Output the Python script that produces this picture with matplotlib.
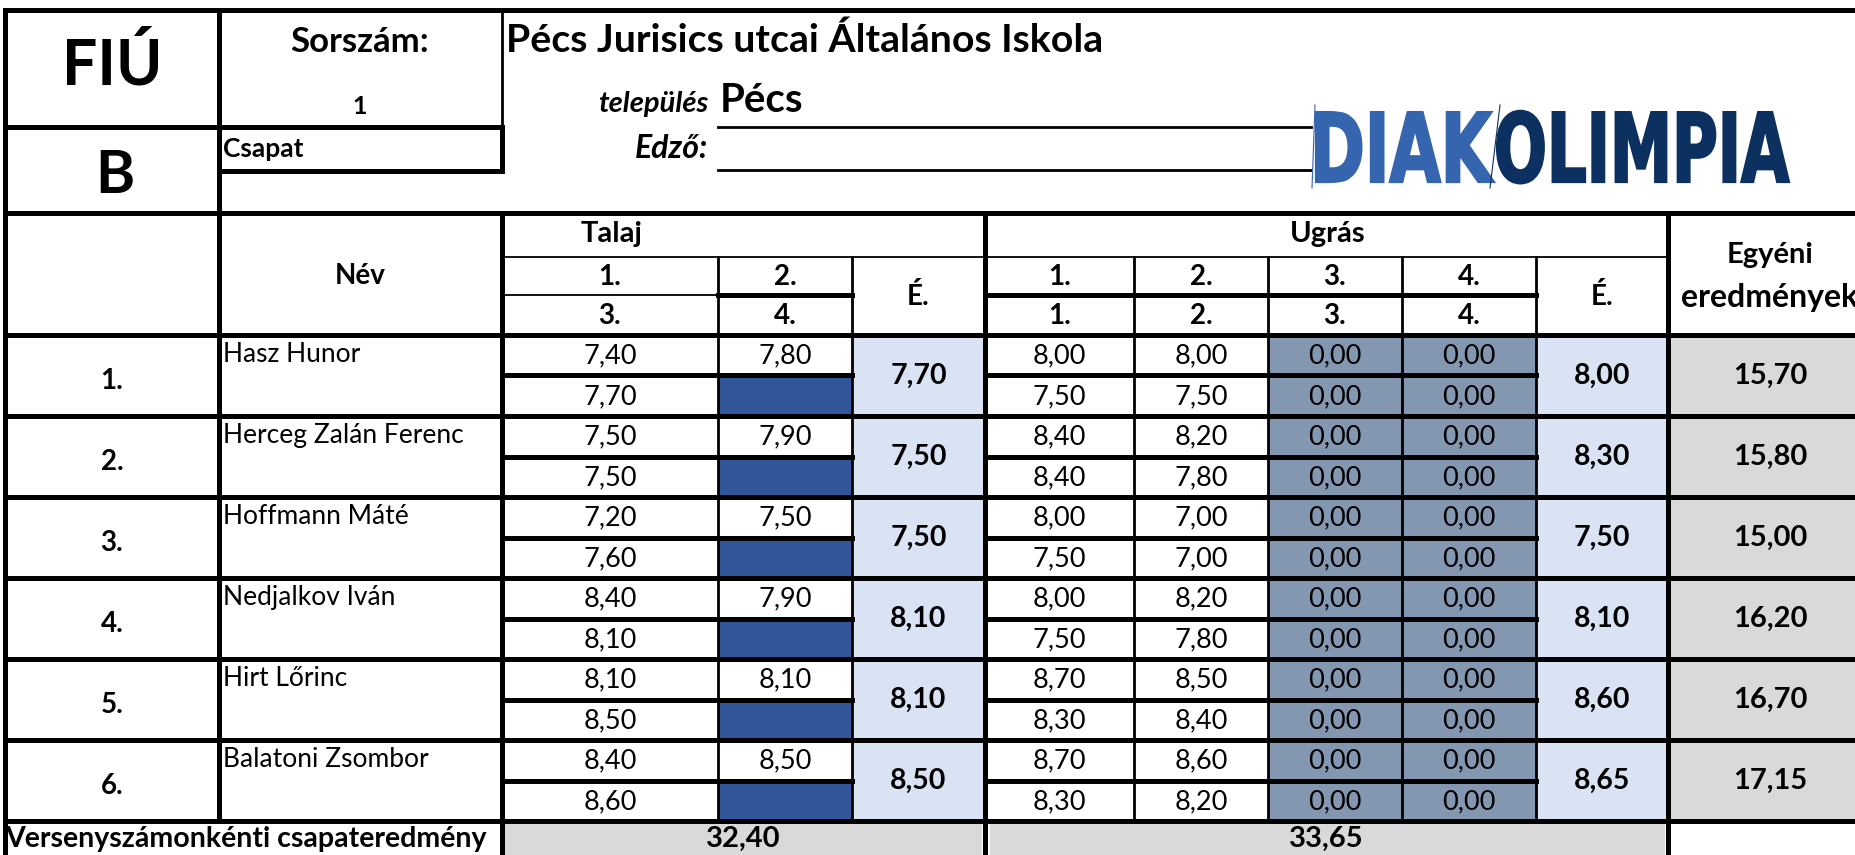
import matplotlib.pyplot as plt
from matplotlib.patches import Rectangle, PathPatch
from matplotlib.textpath import TextPath
from matplotlib.font_manager import FontProperties
from matplotlib.transforms import Affine2D

# Data read from the score sheet
names = ["Hasz Hunor", "Herceg Zalán Ferenc", "Hoffmann Máté",
         "Nedjalkov Iván", "Hirt Lőrinc", "Balatoni Zsombor"]
ranks = ["1.", "2.", "3.", "4.", "5.", "6."]

talaj_1 = [7.40, 7.50, 7.20, 8.40, 8.10, 8.40]
talaj_2 = [7.80, 7.90, 7.50, 7.90, 8.10, 8.50]
talaj_3 = [7.70, 7.50, 7.60, 8.10, 8.50, 8.60]
talaj_e = [7.70, 7.50, 7.50, 8.10, 8.10, 8.50]

ugras_top_1 = [8.00, 8.40, 8.00, 8.00, 8.70, 8.70]
ugras_top_2 = [8.00, 8.20, 7.00, 8.20, 8.50, 8.60]
ugras_top_3 = [0.00, 0.00, 0.00, 0.00, 0.00, 0.00]
ugras_top_4 = [0.00, 0.00, 0.00, 0.00, 0.00, 0.00]
ugras_bot_1 = [7.50, 8.40, 7.50, 7.50, 8.30, 8.30]
ugras_bot_2 = [7.50, 7.80, 7.00, 7.80, 8.40, 8.20]
ugras_bot_3 = [0.00, 0.00, 0.00, 0.00, 0.00, 0.00]
ugras_bot_4 = [0.00, 0.00, 0.00, 0.00, 0.00, 0.00]
ugras_e = [8.00, 8.30, 7.50, 8.10, 8.60, 8.65]

egyeni = [15.70, 15.80, 15.00, 16.20, 16.70, 17.15]
team_talaj = 32.40
team_ugras = 33.65

FONT = "Lato"
DARK_BLUE = "#31579a"
LAVENDER = "#dae3f3"
SLATE = "#8497b0"
GRAY = "#d9d9d9"

THICK = 3.6
MID = 2.0
THIN = 1.3


def fmt(v):
    return f"{v:.2f}".replace(".", ",")


fig = plt.figure(figsize=(18.55, 8.55), dpi=100)
ax = fig.add_axes([0, 0, 1, 1])
ax.set_xlim(0, 1855)
ax.set_ylim(855, 0)
ax.axis("off")


def txt(x, y, s, size=20, weight="normal", ha="center", style="normal", color="black"):
    ax.text(x, y, s, fontsize=size, fontweight=weight, ha=ha, va="center",
            family=FONT, style=style, color=color)


def hline(y, x0, x1, lw=THICK):
    ax.plot([x0, x1], [y, y], color="black", lw=lw, solid_capstyle="projecting")


def vline(x, y0, y1, lw=THICK):
    ax.plot([x, x], [y0, y1], color="black", lw=lw, solid_capstyle="projecting")


def fill(x0, y0, x1, y1, color):
    ax.add_patch(Rectangle((x0, y0), x1 - x0, y1 - y0, facecolor=color, edgecolor="none"))


# column edges
c_rank, c_name, c_t = 5, 219, 502
t_cols = [502, 718, 852, 985]
u_cols = [985, 1134, 1268, 1402, 1536, 1668]
right = 1855

head_top = 213
data_top = 335
row_h = 81
bottom_row = data_top + 6 * row_h  # 821

# ---- fills ----
for i in range(6):
    top = data_top + i * row_h
    mid = top + row_h / 2
    fill(t_cols[1], mid, t_cols[2], top + row_h, DARK_BLUE)
    fill(t_cols[2], top, t_cols[3], top + row_h, LAVENDER)
    fill(u_cols[2], top, u_cols[4], top + row_h, SLATE)
    fill(u_cols[4], top, u_cols[5], top + row_h, LAVENDER)
    fill(u_cols[5], top, right, top + row_h, GRAY)
fill(505, bottom_row + 2, 982, 855, GRAY)
fill(990, bottom_row + 2, 1665, 855, GRAY)

# ---- top block ----
hline(10, 5, right)
hline(127, 5, c_t)
hline(171, c_name, c_t)
vline(c_rank, 10, 855)
vline(c_name, 10, bottom_row)
vline(c_t, 10, 127, lw=MID)
vline(c_t, 127, 171)

txt(112, 66, "FIÚ", size=45, weight="bold")
txt(115, 176, "B", size=43, weight="bold")
txt(360, 42, "Sorszám:", size=25, weight="bold")
txt(360, 106, "1", size=18, weight="bold")
txt(223, 149, "Csapat", size=19, weight="bold", ha="left")

txt(506, 40, "Pécs Jurisics utcai Általános Iskola", size=28.3, weight="bold", ha="left")
txt(708, 104, "település", size=21, weight="bold", ha="right", style="italic")
txt(720, 100, "Pécs", size=29, weight="bold", ha="left")
txt(708, 148, "Edző:", size=23, weight="bold", ha="right", style="italic")
hline(127, 718, 1311, lw=MID)
hline(170, 718, 1311, lw=MID)

# logo drawn from text paths squeezed horizontally
fp = FontProperties(family="DejaVu Sans", weight="bold")
logo_parts = [("DIAK", "#3565ae", 1316, 178), ("OLIMPIA", "#0c3160", 1497, 292)]
cap_px = 70.0
for word, col, x0, target_w in logo_parts:
    tp = TextPath((0, 0), word, size=100, prop=fp)
    ext = tp.get_extents()
    sy = cap_px / 73.0
    sx = target_w / ext.width
    tr = Affine2D().translate(-ext.x0, 0).scale(sx, -sy).translate(x0, 182)
    ax.add_patch(PathPatch(tr.transform_path(tp), facecolor=col, edgecolor=col, lw=1.6))
ax.plot([1315, 1312], [105, 188], color="#3565ae", lw=0.8)
ax.plot([1500, 1490], [105, 188], color="#0c3160", lw=0.8)

# ---- header ----
hline(head_top, 5, right)
hline(257, t_cols[0], u_cols[5], lw=THIN)
hline(295, t_cols[0], t_cols[1], lw=THIN)
hline(295, t_cols[1], t_cols[2])
hline(295, u_cols[0], u_cols[4])
hline(data_top, 5, right)

vline(c_t, head_top, 855)
vline(t_cols[3], head_top, 855)
vline(u_cols[5], head_top, 855)
for x in t_cols[1:3] + u_cols[1:5]:
    vline(x, 257, bottom_row, lw=MID)

txt(360, 276, "Név", size=20, weight="bold")
txt(612, 234, "Talaj", size=21, weight="bold")
txt(1328, 234, "Ugrás", size=21, weight="bold")
for j, lab in enumerate(["1.", "2."]):
    txt((t_cols[j] + t_cols[j + 1]) / 2, 277, lab, size=20, weight="bold")
for j, lab in enumerate(["3.", "4."]):
    txt((t_cols[j] + t_cols[j + 1]) / 2, 316, lab, size=20, weight="bold")
txt((t_cols[2] + t_cols[3]) / 2, 296, "É.", size=20, weight="bold")
for j, lab in enumerate(["1.", "2.", "3.", "4."]):
    xc = (u_cols[j] + u_cols[j + 1]) / 2
    txt(xc, 277, lab, size=20, weight="bold")
    txt(xc, 316, lab, size=20, weight="bold")
txt((u_cols[4] + u_cols[5]) / 2, 296, "É.", size=20, weight="bold")
txt(1770, 255, "Egyéni", size=21, weight="bold")
txt(1770, 297, "eredmények", size=23, weight="bold")

# ---- data rows ----
ugras_top = [ugras_top_1, ugras_top_2, ugras_top_3, ugras_top_4]
ugras_bot = [ugras_bot_1, ugras_bot_2, ugras_bot_3, ugras_bot_4]
for i in range(6):
    top = data_top + i * row_h
    mid = top + row_h / 2
    yc1 = top + row_h / 4 + 1
    yc2 = mid + row_h / 4 + 1
    hline(mid, t_cols[0], t_cols[2])
    hline(mid, u_cols[0], u_cols[4])
    hline(top + row_h, 5, right)

    txt(112, mid + 5, ranks[i], size=20, weight="bold")
    txt(223, top + 19, names[i], size=19, ha="left")

    txt((t_cols[0] + t_cols[1]) / 2, yc1, fmt(talaj_1[i]), size=19.5)
    txt((t_cols[1] + t_cols[2]) / 2, yc1, fmt(talaj_2[i]), size=19.5)
    txt((t_cols[0] + t_cols[1]) / 2, yc2, fmt(talaj_3[i]), size=19.5)
    txt((t_cols[2] + t_cols[3]) / 2, mid, fmt(talaj_e[i]), size=20.5, weight="bold")

    for j in range(4):
        xc = (u_cols[j] + u_cols[j + 1]) / 2
        txt(xc, yc1, fmt(ugras_top[j][i]), size=19.5)
        txt(xc, yc2, fmt(ugras_bot[j][i]), size=19.5)
    txt((u_cols[4] + u_cols[5]) / 2, mid, fmt(ugras_e[i]), size=20.5, weight="bold")
    txt(1770, mid, fmt(egyeni[i]), size=21, weight="bold")

# ---- team totals ----
txt(5, 839, "Versenyszámonkénti csapateredmény", size=20.5, weight="bold", ha="left")
txt((t_cols[0] + t_cols[3]) / 2, 839, fmt(team_talaj), size=21, weight="bold")
txt((u_cols[0] + u_cols[5]) / 2, 839, fmt(team_ugras), size=21, weight="bold")

fig.savefig("out.png", dpi=100)
